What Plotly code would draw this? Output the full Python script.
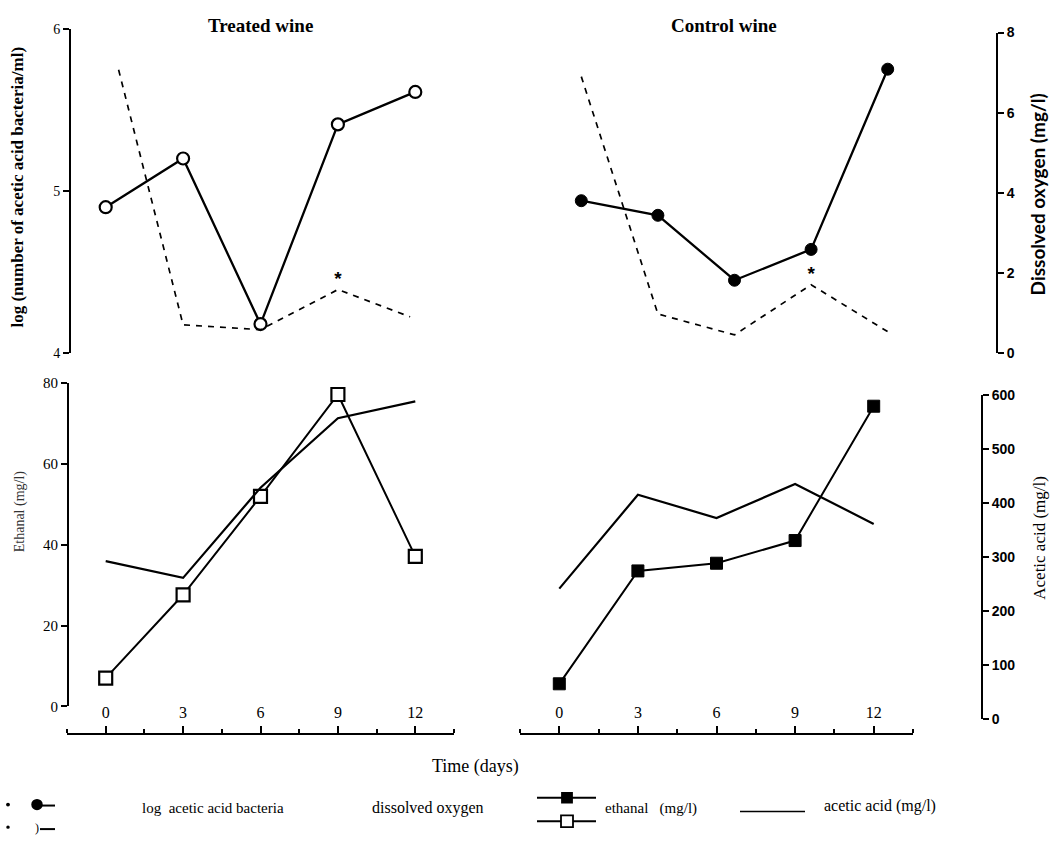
import plotly.graph_objects as go

# ---------------- data ----------------
days = [0, 3, 6, 9, 12]
do_days_treated = [0.5, 3, 6, 9, 11.8]
do_days_control = [0, 3, 6, 9, 12]

log_bact_treated = [4.90, 5.20, 4.18, 5.41, 5.61]
log_bact_control = [4.94, 4.85, 4.45, 4.64, 5.75]

do_treated = [7.07, 0.71, 0.59, 1.59, 0.91]
do_control = [6.90, 0.98, 0.46, 1.71, 0.54]

ethanal_treated = [7.0, 27.6, 51.9, 77.1, 37.1]
ethanal_control = [5.6, 33.5, 35.4, 41.0, 74.2]

acetic_treated = [293, 262, 429, 558, 589]
acetic_control = [242, 416, 373, 436, 362]

x_tick_vals = [0, 3, 6, 9, 12]
x_tick_text = ["0", "3", "6", "9", "12"]
log_ticks = [4, 5, 6]
do_ticks = [0, 2, 4, 6, 8]
eth_ticks = [0, 20, 40, 60, 80]
ac_ticks = [0, 100, 200, 300, 400, 500, 600]

W, H = 1063, 842
def px(x):
    return x / W
def py(y):
    return 1 - y / H

SERIF = "Liberation Serif"
SANS = "Liberation Sans"

fig = go.Figure()

# top-left: treated wine, bacteria (open circles) and dissolved oxygen (dashed)
fig.add_trace(go.Scatter(x=days, y=log_bact_treated, xaxis="x", yaxis="y",
                         mode="lines+markers",
                         line=dict(color="black", width=2.3),
                         marker=dict(symbol="circle", size=12, color="white",
                                     line=dict(color="black", width=2.2)),
                         showlegend=False))
fig.add_trace(go.Scatter(x=do_days_treated, y=do_treated, xaxis="x", yaxis="y2",
                         mode="lines", line=dict(color="black", width=1.7, dash="6px,6px"),
                         showlegend=False))
fig.add_trace(go.Scatter(x=[do_days_treated[3]], y=[do_treated[3]], xaxis="x", yaxis="y2",
                         mode="text", text=["<b>*</b>"], textposition="top center",
                         textfont=dict(family=SANS, size=19, color="black"),
                         showlegend=False))

# top-right: control wine, bacteria (filled circles) and dissolved oxygen (dashed)
fig.add_trace(go.Scatter(x=days, y=log_bact_control, xaxis="x2", yaxis="y3",
                         mode="lines+markers",
                         line=dict(color="black", width=2.3),
                         marker=dict(symbol="circle", size=12, color="black",
                                     line=dict(color="black", width=1)),
                         showlegend=False))
fig.add_trace(go.Scatter(x=do_days_control, y=do_control, xaxis="x2", yaxis="y4",
                         mode="lines", line=dict(color="black", width=1.7, dash="6px,6px"),
                         showlegend=False))
fig.add_trace(go.Scatter(x=[do_days_control[3]], y=[do_control[3]], xaxis="x2", yaxis="y4",
                         mode="text", text=["<b>*</b>"], textposition="top center",
                         textfont=dict(family=SANS, size=19, color="black"),
                         showlegend=False))

# bottom-left: treated wine, acetic acid (line) and ethanal (open squares)
fig.add_trace(go.Scatter(x=days, y=acetic_treated, xaxis="x3", yaxis="y6",
                         mode="lines", line=dict(color="black", width=2.2),
                         showlegend=False))
fig.add_trace(go.Scatter(x=days, y=ethanal_treated, xaxis="x3", yaxis="y5",
                         mode="lines+markers",
                         line=dict(color="black", width=2),
                         marker=dict(symbol="square", size=13, color="white",
                                     line=dict(color="black", width=2.2)),
                         showlegend=False))

# bottom-right: control wine, acetic acid (line) and ethanal (filled squares)
fig.add_trace(go.Scatter(x=days, y=acetic_control, xaxis="x4", yaxis="y8",
                         mode="lines", line=dict(color="black", width=2.2),
                         showlegend=False))
fig.add_trace(go.Scatter(x=days, y=ethanal_control, xaxis="x4", yaxis="y7",
                         mode="lines+markers",
                         line=dict(color="black", width=2),
                         marker=dict(symbol="square", size=12, color="black",
                                     line=dict(color="black", width=1)),
                         showlegend=False))

# ---------------- axes ----------------
xrange = [-1.5, 13.5]
hidden_x = dict(range=xrange, visible=False, fixedrange=True)

left_tickfont = dict(family=SERIF, size=15, color="black")
right_tickfont = dict(family=SANS, size=14, color="black", weight="bold")

def yax(domain, rng, ticks, side, pos, font, visible=True):
    return dict(domain=domain, range=rng, anchor="free", position=pos, side=side,
                tickmode="array", tickvals=ticks, ticktext=[str(t) for t in ticks],
                showline=True, linecolor="black", linewidth=2,
                ticks="outside", ticklen=6, tickwidth=2, tickcolor="black",
                tickfont=font, showgrid=False, zeroline=False, visible=visible)

def xax(domain):
    return dict(domain=domain, range=xrange, anchor="free", position=py(740), side="top",
                tickmode="array", tickvals=x_tick_vals, ticktext=x_tick_text,
                showline=True, linecolor="black", linewidth=1.6,
                ticks="outside", ticklen=7, tickwidth=1.6, tickcolor="black",
                minor=dict(tickmode="array",
                           tickvals=[-1.5, 1.5, 4.5, 7.5, 10.5, 13.5],
                           ticks="outside", ticklen=4, tickwidth=1.5, tickcolor="black"),
                tickfont=dict(family=SERIF, size=16, color="black"),
                showgrid=False, zeroline=False, ticklabelstandoff=2)

top_log_dom = [py(352), py(21)]
top_do_dom = [py(352), py(25)]
bot_eth_dom = [py(712), py(382)]
bot_ac_dom = [py(725), py(395)]

fig.update_layout(
    width=W, height=H,
    margin=dict(l=0, r=0, t=0, b=0),
    paper_bgcolor="white", plot_bgcolor="rgba(0,0,0,0)",
    showlegend=False,
    xaxis=dict(domain=[px(67), px(454)], anchor="y", **hidden_x),
    xaxis2=dict(domain=[px(543), px(926)], anchor="y3", **hidden_x),
    xaxis3=xax([px(67), px(454)]),
    xaxis4=xax([px(520), px(913)]),
    yaxis=yax(top_log_dom, [4, 6], log_ticks, "left", px(70),
              dict(family=SERIF, size=14, color="black")),
    yaxis2=yax(top_do_dom, [0, 8], do_ticks, "right", px(997), right_tickfont, visible=False),
    yaxis3=yax(top_log_dom, [4, 6], log_ticks, "left", px(70), left_tickfont, visible=False),
    yaxis4=yax(top_do_dom, [0, 8], do_ticks, "right", px(997), right_tickfont),
    yaxis5=yax(bot_eth_dom, [0, 80], eth_ticks, "left", px(68), left_tickfont),
    yaxis6=yax(bot_ac_dom, [0, 600], ac_ticks, "right", px(982), right_tickfont, visible=False),
    yaxis7=yax(bot_eth_dom, [0, 80], eth_ticks, "left", px(68), left_tickfont, visible=False),
    yaxis8=yax(bot_ac_dom, [0, 600], ac_ticks, "right", px(982), right_tickfont),
)

# ---------------- text ----------------
ann = []
def text(x, y, s, size, family=SERIF, weight="normal", angle=0, xanchor="center", color="black"):
    ann.append(dict(x=px(x), y=py(y), xref="paper", yref="paper", text=s, showarrow=False,
                    xanchor=xanchor, yanchor="middle", textangle=angle,
                    font=dict(family=family, size=size, color=color, weight=weight)))

text(260, 18, "Treated wine", 19, weight="bold")
text(724, 18, "Control wine", 19, weight="bold")
text(475, 773, "Time (days)", 18)
text(18, 183, "log (number of acetic acid bacteria/ml)", 17, weight="bold", angle=-90)
text(20, 513, "Ethanal (mg/l)", 14, angle=-90, color="#333333")
text(1037, 190, "Dissolved oxygen (mg/l)", 19, family="Lato", weight="bold", angle=-90)
text(1040, 540, "Acetic acid (mg/l)", 17, angle=-90)

# legend texts
text(140, 815, "log  acetic acid bacteria", 15, xanchor="left")
text(370, 816, "dissolved oxygen", 16, xanchor="left")
text(603, 816, "ethanal   (mg/l)", 15, xanchor="left")
text(822, 813, "acetic acid (mg/l)", 16, xanchor="left")
text(37, 836, ")", 12)
fig.update_layout(annotations=ann)

# legend samples
shapes = []
def line(x0, y0, x1, y1, w=2, color="black"):
    shapes.append(dict(type="line", xref="paper", yref="paper", x0=px(x0), y0=py(y0),
                       x1=px(x1), y1=py(y1), line=dict(color=color, width=w)))
def circle(cx, cy, r, fill):
    shapes.append(dict(type="circle", xref="paper", yref="paper",
                       x0=px(cx - r), x1=px(cx + r), y0=py(cy + r), y1=py(cy - r),
                       fillcolor=fill, line=dict(color="black", width=1.5)))
def rect(cx, cy, r, fill):
    shapes.append(dict(type="rect", xref="paper", yref="paper",
                       x0=px(cx - r), x1=px(cx + r), y0=py(cy + r), y1=py(cy - r),
                       fillcolor=fill, line=dict(color="black", width=1.8)))

line(41, 813, 55, 813)
circle(37, 812, 5, "black")
line(40, 837, 55, 837)
circle(8, 812, 1.2, "black")
circle(8, 835, 1.0, "black")
line(537, 805, 596, 805)
rect(567, 805, 5, "black")
line(537, 829, 596, 829)
rect(567, 829, 6, "white")
line(740, 819, 805, 819, 1.6)
fig.update_layout(shapes=shapes)

fig.write_html("out.html")
